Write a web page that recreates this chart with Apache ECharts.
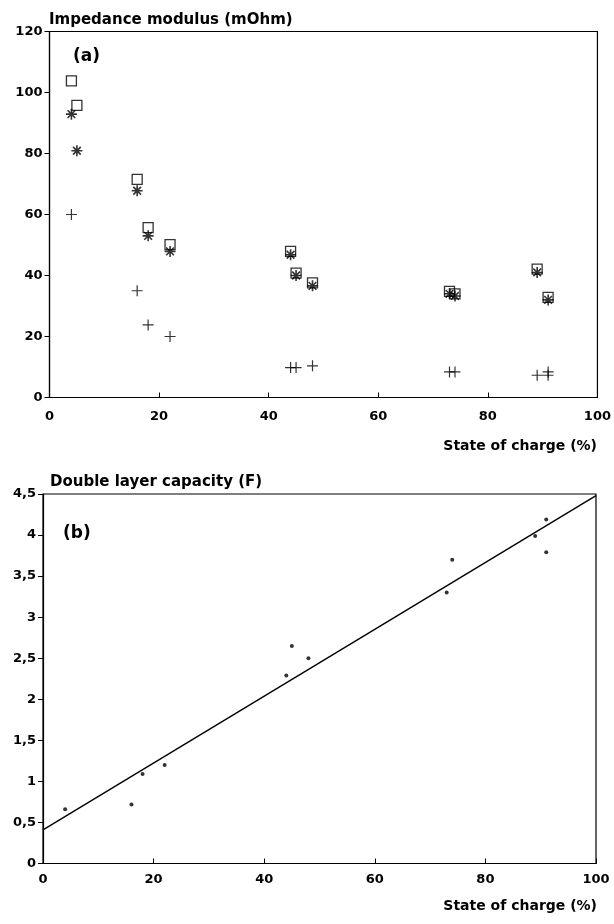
<!DOCTYPE html>
<html>
<head>
<meta charset="utf-8">
<script src="https://cdn.jsdelivr.net/npm/echarts@6/dist/echarts.min.js"></script>
<style>html,body{margin:0;padding:0;background:#fff;}#c{width:614px;height:924px;}</style>
</head>
<body>
<div id="c"></div>
<script>
// Panel (a): impedance modulus vs state of charge
const socA = [4, 5, 16, 18, 22, 44, 45, 48, 73, 74, 89, 91];
const squareA = [103.8, 95.8, 71.5, 55.7, 50.1, 47.9, 40.8, 37.6, 34.8, 34.0, 42.1, 32.8];
const starA = [92.9, 80.9, 67.8, 53.0, 47.9, 46.8, 40.0, 36.6, 34.0, 33.3, 41.0, 32.0];
const plusSocA = [4, 16, 18, 22, 44, 45, 48, 73, 74, 89, 91, 91];
const plusA = [60, 35, 23.8, 20, 9.8, 9.8, 10.4, 8.4, 8.4, 7.3, 8.4, 7.3];

// Panel (b): double layer capacity vs state of charge
const socB = [4, 16, 18, 22, 44, 45, 48, 73, 74, 89, 91, 91];
const capB = [0.66, 0.72, 1.09, 1.20, 2.29, 2.65, 2.50, 3.30, 3.70, 3.99, 4.19, 3.79];
const fitSoc = [0, 100];
const fitCap = [0.41, 4.48];

// Tick labels
const xTicks = ['0', '20', '40', '60', '80', '100'];
const yTicksA = ['0', '20', '40', '60', '80', '100', '120'];
const yTicksB = ['0', '0,5', '1', '1,5', '2', '2,5', '3', '3,5', '4', '4,5'];

const FONT = 'DejaVu Sans';
const lbl = {color: '#000', fontFamily: FONT, fontWeight: 'bold', fontSize: 13};
const pair = (xs, ys) => xs.map((x, i) => [x, ys[i]]);

const xAxisBase = (gi, margin) => ({
  type: 'value', gridIndex: gi, min: 0, max: 100, interval: 20,
  axisLine: {show: true, lineStyle: {color: '#000', width: 1.2}},
  axisTick: {show: true, inside: true, length: 5, lineStyle: {color: '#000'}},
  splitLine: {show: false},
  axisLabel: Object.assign({margin: margin, formatter: v => xTicks[Math.round(v / 20)]}, lbl)
});

const chart = echarts.init(document.getElementById('c'), null, {renderer: 'canvas'});
const ttl = {fontFamily: FONT, fontWeight: 'bold', fontSize: 15, color: '#000'};
const axn = {fontFamily: FONT, fontWeight: 'bold', fontSize: 14, color: '#000'};
const tag = {fontFamily: FONT, fontWeight: 'bold', fontSize: 17, color: '#000'};
chart.setOption({
  animation: false,
  backgroundColor: '#fff',
  title: [
    {text: 'Impedance modulus (mOhm)', left: 49, top: 13, padding: 0, textStyle: ttl},
    {text: '(a)', left: 73, top: 48, padding: 0, textStyle: tag},
    {text: 'State of charge (%)', right: 17, top: 439, padding: 0, textStyle: axn},
    {text: 'Double layer capacity (F)', left: 50, top: 475, padding: 0, textStyle: ttl},
    {text: '(b)', left: 63, top: 525, padding: 0, textStyle: tag},
    {text: 'State of charge (%)', right: 17, top: 899, padding: 0, textStyle: axn}
  ],
  grid: [
    {left: 49.5, right: 16.5, top: 31.5, height: 366, show: true, borderColor: '#000', borderWidth: 1.2, containLabel: false},
    {left: 43, right: 18, top: 494, height: 369.5, show: true, borderColor: '#000', borderWidth: 1.2, containLabel: false}
  ],
  xAxis: [xAxisBase(0, 13), xAxisBase(1, 10)],
  yAxis: [
    {
      type: 'value', gridIndex: 0, min: 0, max: 120, interval: 20,
      axisLine: {show: true, lineStyle: {color: '#000', width: 1.2}},
      axisTick: {show: true, length: 5, lineStyle: {color: '#000'}},
      splitLine: {show: false},
      axisLabel: Object.assign({margin: 7, formatter: v => yTicksA[Math.round(v / 20)]}, lbl)
    },
    {
      type: 'value', gridIndex: 1, min: 0, max: 4.5, interval: 0.5,
      axisLine: {show: true, lineStyle: {color: '#000', width: 1.2}},
      axisTick: {show: true, length: 5, lineStyle: {color: '#000'}},
      splitLine: {show: false},
      axisLabel: Object.assign({margin: 7, formatter: v => yTicksB[Math.round(v / 0.5)]}, lbl)
    }
  ],
  series: [
    {
      type: 'scatter', xAxisIndex: 0, yAxisIndex: 0, data: pair(socA, squareA),
      symbol: 'rect', symbolSize: 10,
      itemStyle: {color: 'transparent', borderColor: '#000', borderWidth: 1.3}
    },
    {
      type: 'scatter', xAxisIndex: 0, yAxisIndex: 0, data: pair(socA, starA),
      symbol: 'path://M5 0L5 10M0 5L10 5M1.5 1.5L8.5 8.5M8.5 1.5L1.5 8.5', symbolSize: 11,
      itemStyle: {color: 'transparent', borderColor: '#000', borderWidth: 1.6}
    },
    {
      type: 'scatter', xAxisIndex: 0, yAxisIndex: 0, data: pair(plusSocA, plusA),
      symbol: 'path://M0 5L10 5M5 0L5 10', symbolSize: 11,
      itemStyle: {color: 'transparent', borderColor: '#000', borderWidth: 1.2}
    },
    {
      type: 'scatter', xAxisIndex: 1, yAxisIndex: 1, data: pair(socB, capB),
      symbol: 'circle', symbolSize: 4,
      itemStyle: {color: '#000'}
    },
    {
      type: 'line', xAxisIndex: 1, yAxisIndex: 1, data: pair(fitSoc, fitCap),
      showSymbol: false, symbol: 'none',
      lineStyle: {color: '#000', width: 1.4}
    }
  ]
});
</script>
</body>
</html>
